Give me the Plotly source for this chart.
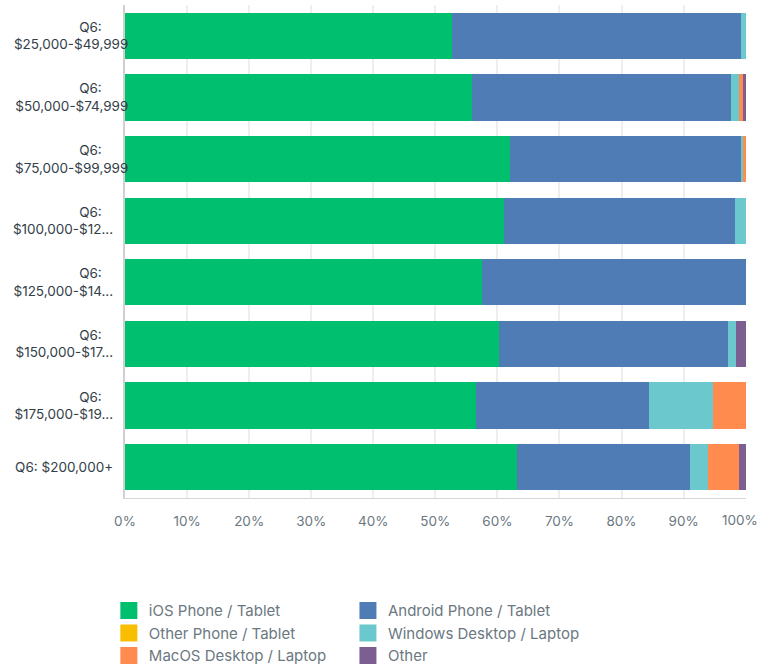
import plotly.graph_objects as go

categories = [
    "Q6:<br>$25,000-$49,999",
    "Q6:<br>$50,000-$74,999",
    "Q6:<br>$75,000-$99,999",
    "Q6:<br>$100,000-$12...",
    "Q6:<br>$125,000-$14...",
    "Q6:<br>$150,000-$17...",
    "Q6:<br>$175,000-$19...",
    "Q6: $200,000+",
]

ios = [52.7, 55.9, 62.0, 61.0, 57.5, 60.2, 56.5, 63.1]
android = [46.5, 41.7, 37.2, 37.2, 42.5, 36.9, 28.0, 28.0]
other_phone = [0, 0, 0, 0, 0, 0, 0, 0]
windows = [0.8, 1.4, 0.4, 1.8, 0, 1.3, 10.2, 2.9]
macos = [0, 0.5, 0.4, 0, 0, 0, 5.3, 4.9]
other = [0, 0.5, 0, 0, 0, 1.6, 0, 1.1]

series = [
    ("iOS Phone / Tablet", ios, "#00BF6F", "legend"),
    ("Android Phone / Tablet", android, "#507CB6", "legend2"),
    ("Other Phone / Tablet", other_phone, "#F9BE00", "legend"),
    ("Windows Desktop / Laptop", windows, "#6BC8CD", "legend2"),
    ("MacOS Desktop / Laptop", macos, "#FF8B4F", "legend"),
    ("Other", other, "#7D5E90", "legend2"),
]

x_ticks = [0, 10, 20, 30, 40, 50, 60, 70, 80, 90, 100]

# --- presentation only: mimic the reference label alignment ---
NB = "\u00a0"


def pad_label(label):
    lines = label.split("<br>")
    out = []
    for ln in lines:
        if ln == "Q6:":
            out.append(ln + NB * 7)
        elif ln.endswith("...") or ln.endswith("+"):
            out.append(ln + NB * 4)
        else:
            out.append(ln)
    return "<br>".join(out)


y_tick_text = [pad_label(c) for c in categories]
x_tick_text = [f"{v}%" for v in x_ticks]
last_label = x_tick_text[-1]
x_tick_text[-1] = ""

fig = go.Figure()
for name, vals, color, leg in series:
    fig.add_trace(go.Bar(
        y=categories, x=vals, name=name, orientation="h", showlegend=False,
        marker=dict(color=color, line=dict(width=0)),
        hovertemplate="%{y}: %{x}%<extra>" + name + "</extra>",
    ))
# legend entries (bigger swatches), no marks drawn
for name, vals, color, leg in series:
    fig.add_trace(go.Bar(
        y=[categories[0]], x=[None], name=name, orientation="h", legend=leg,
        xaxis="x2", yaxis="y2", hoverinfo="skip",
        marker=dict(color=color, line=dict(width=5, color=color)),
    ))

fig.add_annotation(
    x=x_ticks[-1], xref="x", y=0, yref="paper", text=last_label,
    showarrow=False, xanchor="center", yanchor="middle", xshift=-6, yshift=-22,
    font=dict(size=13.5, color="#6B787F"),
)

legend_common = dict(
    orientation="v", yanchor="top", xanchor="left",
    font=dict(size=15, color="#6B787F"),
    traceorder="normal", tracegroupgap=0, bgcolor="rgba(0,0,0,0)",
)

fig.update_layout(
    width=759, height=664,
    barmode="stack", bargap=0.25,
    margin=dict(l=125, r=13, t=5, b=166, autoexpand=False),
    paper_bgcolor="white", plot_bgcolor="white",
    font=dict(family="Inter, Open Sans, sans-serif", color="#333E48", size=13.5),
    xaxis=dict(
        range=[0, 100.05], tickvals=x_ticks, ticktext=x_tick_text,
        showgrid=True, gridcolor="#EDEEEE", gridwidth=2,
        zeroline=False, showline=True, linecolor="#D6D6D6", linewidth=1,
        tickfont=dict(size=13.5, color="#6B787F"), ticks="", ticklabelstandoff=11,
        automargin=False,
    ),
    yaxis=dict(
        autorange="reversed", showgrid=False, zeroline=False,
        showline=True, linecolor="#D0D0D0", linewidth=2,
        tickmode="array", tickvals=categories, ticktext=y_tick_text,
        tickfont=dict(size=13.5, color="#333E48"), ticks="",
        ticklabelstandoff=-8, automargin=False,
    ),
    xaxis2=dict(visible=False, overlaying="x", range=[0, 100]),
    yaxis2=dict(visible=False, overlaying="y"),
    legend=dict(x=-0.026, y=-0.195, **legend_common),
    legend2=dict(x=0.359, y=-0.195, **legend_common),
)

fig.write_html("out.html", post_script="document.body.style.margin='0';",
               config={"displayModeBar": False})
